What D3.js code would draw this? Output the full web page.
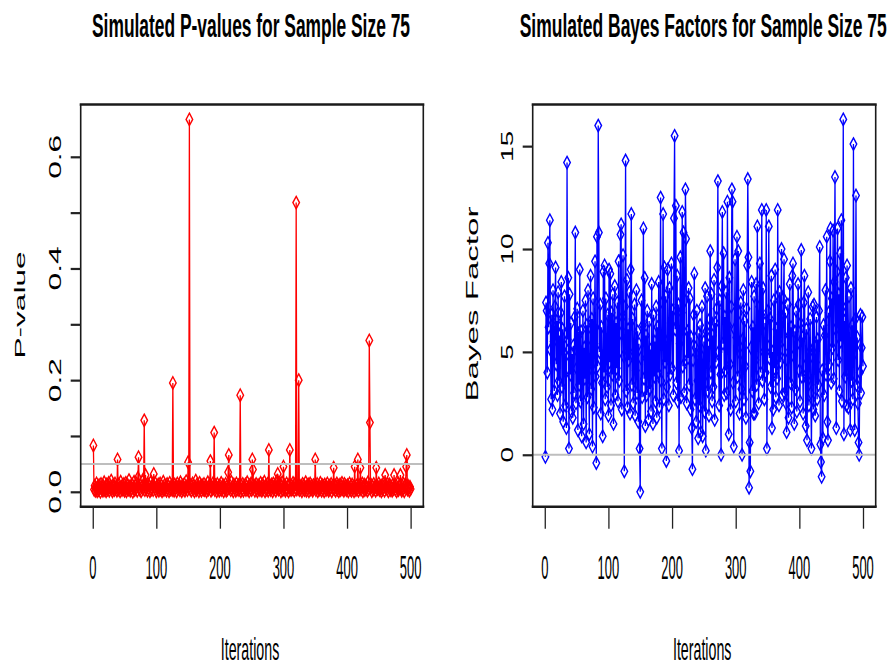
<!DOCTYPE html>
<html>
<head>
<meta charset="utf-8">
<script src="https://cdn.jsdelivr.net/npm/d3@7"></script>
<style>
  body { margin: 0; background: #fff; }
  text { font-family: "Liberation Sans", Arial, sans-serif; fill: #000; }
</style>
</head>
<body>
<div id="chart"></div>
<script>
var iterationTicks = [0, 100, 200, 300, 400, 500];
var pTicks = [0, 0.1, 0.2, 0.3, 0.4, 0.5, 0.6];
var pTickLabels = ["0.0", "", "0.2", "", "0.4", "", "0.6"];
var bfTicks = [0, 5, 10, 15];
var bfTickLabels = ["0", "5", "10", "15"];

// simulated p-values, iterations 1..500
var pValues = [
  .083,.004,.011,.002,.007,.015,.001,.009,.003,.012,.006,.000,.014,.005,.008,.002,.010,.017,.003,.006,.001,.013,.004,.009,.016,
  .002,.007,.011,.020,.005,.001,.012,.008,.003,.015,.006,.010,.002,.058,.004,.013,.007,.001,.018,.009,.003,.011,.005,.014,.002,
  .008,.016,.001,.006,.012,.004,.021,.009,.002,.010,.005,.013,.000,.007,.018,.003,.011,.006,.015,.002,.025,.062,.008,.004,.012,
  .001,.009,.019,.005,.013,.128,.003,.030,.007,.011,.002,.014,.006,.010,.001,.017,.004,.008,.012,.003,.032,.009,.016,.005,.001,
  .010,.006,.013,.002,.008,.015,.004,.011,.001,.007,.018,.003,.012,.005,.009,.002,.014,.006,.010,.001,.016,.004,.008,.011,.003,
  .195,.009,.002,.013,.006,.010,.001,.015,.005,.008,.012,.003,.017,.007,.001,.011,.004,.009,.014,.002,.006,.019,.010,.003,.053,
  .008,.667,.005,.012,.002,.009,.015,.004,.011,.001,.007,.020,.003,.013,.006,.009,.001,.016,.005,.010,.002,.012,.007,.004,.014,
  .003,.008,.011,.001,.006,.017,.004,.009,.013,.055,.002,.010,.005,.015,.007,.106,.003,.012,.008,.001,.014,.006,.009,.002,.011,
  .005,.016,.003,.008,.012,.001,.010,.006,.014,.002,.009,.004,.035,.066,.007,.011,.003,.018,.005,.009,.001,.013,.006,.010,.002,
  .015,.004,.008,.012,.003,.007,.173,.001,.011,.005,.014,.002,.009,.006,.013,.003,.010,.017,.004,.008,.001,.012,.006,.015,.003,
  .058,.040,.007,.011,.002,.009,.014,.005,.001,.012,.006,.010,.003,.016,.008,.002,.013,.005,.009,.018,.001,.011,.004,.007,.014,
  .002,.075,.006,.010,.003,.013,.008,.001,.015,.005,.009,.012,.002,.007,.020,.032,.004,.011,.006,.014,.001,.009,.017,.003,.045,
  .008,.012,.002,.006,.015,.004,.010,.001,.013,.075,.007,.003,.011,.005,.016,.009,.002,.014,.006,.518,.004,.010,.007,.200,.003,
  .011,.005,.009,.001,.014,.006,.012,.003,.008,.017,.002,.010,.005,.013,.001,.009,.015,.004,.011,.006,.002,.012,.007,.010,.058,
  .003,.009,.014,.001,.006,.011,.004,.016,.008,.002,.012,.005,.010,.001,.013,.007,.003,.009,.015,.006,.002,.011,.004,.008,.014,
  .001,.010,.006,.043,.005,.012,.002,.009,.015,.004,.011,.001,.007,.013,.003,.010,.016,.005,.008,.002,.014,.006,.011,.003,.009,
  .012,.001,.007,.015,.004,.010,.002,.013,.006,.009,.001,.045,.008,.003,.011,.005,.058,.002,.012,.007,.043,.004,.010,.015,.001,
  .008,.013,.003,.011,.006,.009,.002,.017,.005,.271,.124,.007,.012,.001,.010,.004,.014,.006,.009,.002,.043,.011,.005,.008,.015,
  .003,.010,.006,.001,.012,.004,.009,.016,.002,.030,.007,.011,.005,.014,.001,.008,.013,.003,.010,.006,.002,.012,.005,.030,.009,
  .004,.011,.001,.007,.015,.003,.009,.012,.030,.006,.002,.010,.005,.014,.001,.008,.013,.045,.066,.004,.011,.007,.002,.009,.005
];

// simulated Bayes factors, iterations 1..500
var bayesFactors = [
  -0.1,7.4,7.0,4.0,10.3,6.2,9.3,11.4,5.1,2.7,6.8,2.2,8.0,5.5,3.1,7.2,9.1,4.4,6.5,2.9,7.9,3.6,5.8,2.0,6.9,
  8.4,3.3,6.1,1.6,5.0,7.7,2.4,4.8,1.3,14.2,5.6,8.6,0.3,7.8,3.9,6.4,2.1,4.9,1.8,5.3,3.0,6.7,10.8,2.5,4.2,
  7.1,1.2,5.9,3.4,9.0,2.6,6.0,0.9,4.6,7.0,1.5,5.2,3.7,7.5,0.6,6.3,2.8,8.0,4.1,1.0,5.7,8.7,3.2,6.6,0.4,
  7.6,2.3,5.4,9.4,3.8,-0.4,10.6,4.3,16.0,10.8,5.0,7.3,2.0,6.2,3.5,0.9,8.9,4.0,9.2,2.7,7.6,5.1,3.3,6.8,1.9,
  9.0,4.5,8.8,2.4,6.9,3.9,7.8,1.5,5.6,8.2,2.9,6.4,4.2,7.4,2.6,9.4,3.6,5.9,10.7,11.2,2.2,6.7,9.7,4.8,-0.8,
  7.2,14.3,3.1,8.5,2.3,6.1,4.6,7.9,2.0,9.0,11.7,3.4,6.6,2.5,5.0,7.3,1.9,4.1,8.0,3.0,6.0,1.6,5.4,0.3,-1.8,
  4.7,7.5,2.8,6.3,11.0,3.7,8.6,1.4,5.8,2.9,7.0,4.4,1.7,6.5,3.2,5.1,2.1,8.3,4.9,1.5,6.8,3.8,5.5,2.6,7.2,
  1.8,6.2,4.0,8.4,2.3,5.9,12.5,3.6,0.3,7.4,11.7,2.7,9.1,4.5,7.7,-0.3,3.3,9.0,5.6,2.4,8.1,3.9,6.4,9.3,4.2,
  7.0,2.9,11.5,15.5,6.1,12.1,3.5,8.7,2.6,7.3,0.2,5.4,9.6,2.8,6.9,11.8,4.3,10.8,3.0,7.5,12.9,10.5,2.5,6.0,4.7,
  8.1,3.4,7.6,2.2,5.7,1.3,-0.7,4.6,6.8,8.8,2.7,5.2,1.6,7.0,3.6,0.8,5.9,2.4,6.3,1.1,4.8,7.2,0.9,3.7,5.5,
  2.1,8.1,0.2,6.0,7.7,3.1,5.3,1.9,6.6,9.9,4.0,7.8,2.6,5.8,3.3,8.5,1.7,6.4,4.5,7.1,9.1,13.3,5.0,2.4,7.5,
  3.9,0.0,8.2,11.8,5.4,9.8,2.9,6.7,4.1,7.9,3.0,12.3,6.3,1.0,8.6,4.4,2.2,7.2,12.9,12.3,3.5,0.4,6.1,9.5,2.6,
  5.7,10.6,3.8,9.9,6.9,2.0,4.9,7.4,3.2,0.0,5.6,8.0,2.7,6.5,4.3,1.8,7.1,9.2,13.4,9.6,-1.6,0.6,-0.8,5.2,8.4,
  3.1,6.2,2.0,7.7,2.0,4.6,8.3,3.4,11.1,6.0,2.5,7.2,9.3,4.0,6.8,11.9,3.6,8.1,5.0,2.7,6.4,4.0,11.9,0.3,5.3,
  7.0,11.1,4.7,6.6,3.3,8.7,1.3,5.0,2.2,7.5,4.2,9.0,2.8,6.1,3.7,11.9,5.5,2.4,7.9,4.5,6.8,10.0,2.9,5.1,7.6,
  9.5,3.0,6.9,2.5,1.1,4.6,7.3,1.8,5.8,8.3,3.5,6.2,2.3,8.7,9.3,4.8,1.5,6.0,3.2,7.0,2.1,5.4,8.3,7.3,4.1,
  2.6,6.4,9.95,3.8,5.7,2.0,7.4,8.7,4.3,1.4,6.1,0.7,3.6,7.9,2.4,5.0,6.6,3.0,0.3,4.8,7.2,2.2,7.3,5.3,1.9,
  4.5,6.7,2.7,5.6,3.4,7.0,10.1,0.5,-0.35,-1.07,4.1,0.8,6.3,2.9,5.8,8.0,3.9,10.6,1.6,0.7,6.9,4.4,9.4,11.0,3.5,
  7.6,5.2,10.9,3.7,8.4,13.5,6.1,1.3,8.9,11.0,4.6,7.8,3.1,9.8,5.5,11.4,2.6,7.2,16.3,1.0,6.5,3.8,8.6,2.4,9.2,
  5.0,2.3,7.7,4.4,1.2,8.1,3.6,6.3,2.7,15.1,4.9,1.2,6.6,12.6,3.4,5.7,2.5,0.6,0.0,4.0,6.8,3.0,5.2,6.7,4.3
];

var svg = d3.select("#chart").append("svg")
  .attr("width", 892)
  .attr("height", 666);

// the reference device output is stretched about 2x vertically,
// so text is set at half size and scaled back up along that axis
function addText(g, str, x, y, size, len, weight, rotate) {
  var t = g.append("text")
    .attr("text-anchor", "middle")
    .attr("font-weight", weight || "normal")
    .attr("lengthAdjust", "spacingAndGlyphs")
    .text(str);
  if (rotate) {
    t.attr("transform", "translate(" + x + "," + y + ") rotate(-90) scale(2,1)")
     .attr("font-size", size)
     .attr("textLength", len / 2);
  } else {
    t.attr("transform", "translate(" + x + "," + y + ") scale(1,2)")
     .attr("font-size", size / 2)
     .attr("textLength", len);
  }
  return t;
}

function drawPanel(p) {
  var top = 104.5, bottom = 506.7;
  var g = svg.append("g");
  var iters = d3.range(1, p.values.length + 1);

  // R style axis limits: data range padded by 4%
  var xs = d3.extent(iters), xPad = (xs[1] - xs[0]) * 0.04;
  var x = d3.scaleLinear().domain([xs[0] - xPad, xs[1] + xPad]).range([p.left, p.right]);
  var ys = d3.extent(p.values), yPad = (ys[1] - ys[0]) * 0.04;
  var y = d3.scaleLinear().domain([ys[0] - yPad, ys[1] + yPad]).range([bottom, top]);

  var line = d3.line()
    .x(function(d, i) { return x(iters[i]); })
    .y(function(d) { return y(d); });

  g.append("path")
    .datum(p.values)
    .attr("d", line)
    .attr("fill", "none")
    .attr("stroke", p.color)
    .attr("stroke-width", 1.3);

  g.selectAll("path.pt")
    .data(p.values)
    .enter().append("path")
    .attr("class", "pt")
    .attr("transform", function(d, i) { return "translate(" + x(iters[i]) + "," + y(d) + ")"; })
    .attr("d", "M0,-6.2L3.3,0L0,6.2L-3.3,0Z")
    .attr("fill", "none")
    .attr("stroke", p.color)
    .attr("stroke-width", 1.4);

  // reference line
  g.append("line")
    .attr("x1", p.left).attr("x2", p.right)
    .attr("y1", y(p.refLine)).attr("y2", y(p.refLine))
    .attr("stroke", "#bebebe")
    .attr("stroke-width", 2);

  // box
  g.append("line").attr("x1", p.left - 1).attr("x2", p.right + 1).attr("y1", top).attr("y2", top)
    .attr("stroke", "#1a1a1a").attr("stroke-width", 2.5);
  g.append("line").attr("x1", p.left - 1).attr("x2", p.right + 1).attr("y1", bottom).attr("y2", bottom)
    .attr("stroke", "#1a1a1a").attr("stroke-width", 2.5);
  g.append("line").attr("x1", p.left).attr("x2", p.left).attr("y1", top).attr("y2", bottom)
    .attr("stroke", "#1a1a1a").attr("stroke-width", 1.6);
  g.append("line").attr("x1", p.right).attr("x2", p.right).attr("y1", top).attr("y2", bottom)
    .attr("stroke", "#1a1a1a").attr("stroke-width", 1.6);

  // axes, ticks only; labels drawn separately
  var xAxis = g.append("g")
    .attr("transform", "translate(0," + bottom + ")")
    .call(d3.axisBottom(x).tickValues(iterationTicks).tickSize(22).tickSizeOuter(0).tickFormat(""));
  xAxis.select(".domain").remove();
  xAxis.selectAll(".tick line").attr("stroke", "#222").attr("stroke-width", 1.3);

  var yAxis = g.append("g")
    .attr("transform", "translate(" + p.left + ",0)")
    .call(d3.axisLeft(y).tickValues(p.ticks).tickSize(10).tickSizeOuter(0).tickFormat(""));
  yAxis.select(".domain").remove();
  yAxis.selectAll(".tick line").attr("stroke", "#222").attr("stroke-width", 2.2);

  iterationTicks.forEach(function(t) {
    var s = String(t);
    addText(g, s, x(t), 579, 34, 7.2 * s.length);
  });
  p.ticks.forEach(function(t, i) {
    var s = p.tickLabels[i];
    if (s) addText(g, s, p.left - 20, y(t), 16.3, p.charLen * s.length, null, true);
  });

  var mid = (p.left + p.right) / 2;
  addText(g, p.title, mid - 1, 37, 33.5, p.titleLen, "bold");
  addText(g, "Iterations", mid - 2, 660, 32, 58.5);
  addText(g, p.ylab, p.ylabX, p.ylabY, p.ylabSize, p.ylabLen, null, true);
}

drawPanel({
  values: pValues, color: "#ff0000", refLine: 0.05,
  left: 80.7, right: 423.3,
  ticks: pTicks, tickLabels: pTickLabels, charLen: 14.7,
  title: "Simulated P-values for Sample Size 75", titleLen: 318,
  ylab: "P-value", ylabX: 25, ylabY: 305, ylabSize: 15, ylabLen: 107
});

drawPanel({
  values: bayesFactors, color: "#0000ff", refLine: 0,
  left: 532.7, right: 875.7,
  ticks: bfTicks, tickLabels: bfTickLabels, charLen: 15.5,
  title: "Simulated Bayes Factors for Sample Size 75", titleLen: 367,
  ylab: "Bayes Factor", ylabX: 478, ylabY: 304, ylabSize: 16, ylabLen: 195
});
</script>
</body>
</html>
